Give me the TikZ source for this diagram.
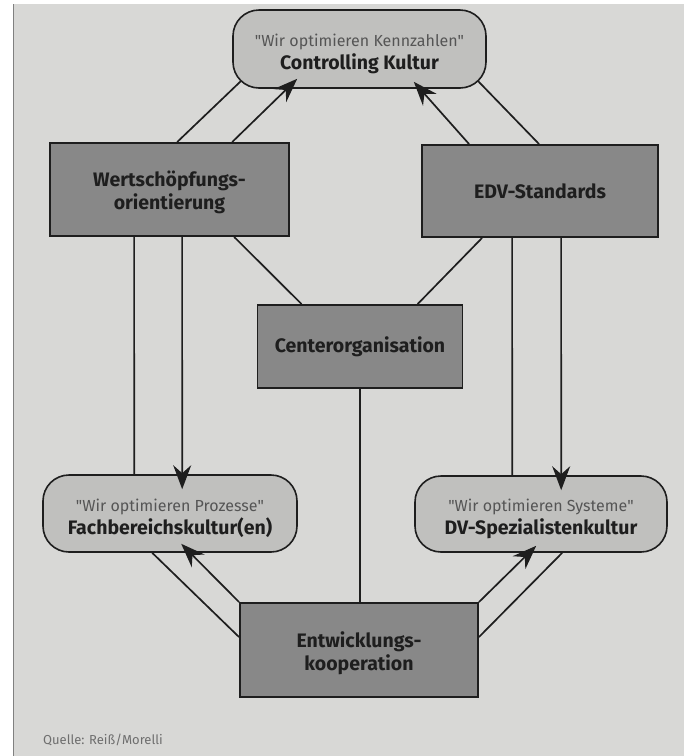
\documentclass[tikz,border=0pt]{standalone}
\usepackage{fontspec}
\setmainfont{Fira Sans}
\usetikzlibrary{arrows.meta,calc}
\definecolor{panel}{RGB}{216,216,214}
\definecolor{boxfill}{RGB}{136,136,136}
\definecolor{roundfill}{RGB}{192,192,190}
\definecolor{ink}{RGB}{30,30,30}
\definecolor{quoteink}{RGB}{85,85,85}
\definecolor{srcink}{RGB}{110,110,110}
\newcommand{\qline}[1]{{\color{quoteink}\mdseries\fontsize{16}{23}\selectfont\rule{0pt}{22pt}\textquotedbl#1\textquotedbl}}
\newcommand{\lowstrut}{\rule{0pt}{22pt}}
\tikzset{
  rectbox/.style={draw=ink,line width=1.8pt,fill=boxfill,inner sep=0pt,align=center,
    font=\fontsize{19.5}{23}\selectfont\bfseries,text=ink},
  roundbox/.style={draw=ink,line width=1.6pt,fill=roundfill,rounded corners=26pt,inner sep=0pt,align=center,
    font=\fontsize{19.5}{23}\selectfont,text=ink},
  conn/.style={draw=ink,line width=1.7pt},
  arr/.style={conn,-{Stealth[length=24pt,width=18pt,inset=8pt]}}
}
\begin{document}
\begin{tikzpicture}[x=1pt,y=-1pt]
\useasboundingbox (0,0) rectangle (691,756);
\fill[white] (0,0) rectangle (691,756);
\fill[panel] (13,4) rectangle (684,756);
\draw[gray,line width=1pt] (13,4) -- (13,756);

\node[roundbox,minimum width=253pt,minimum height=78pt] (ctrl) at (359.5,49)
  {\qline{Wir optimieren Kennzahlen}\\\bfseries Controlling Kultur};
\node[rectbox,minimum width=239pt,minimum height=93pt] (wert) at (169.5,189.5) {\lowstrut Wertschöpfungs-\\orientierung};
\node[rectbox,minimum width=236pt,minimum height=92pt] (edv) at (540,191) {EDV-Standards};
\node[rectbox,minimum width=205pt,minimum height=83pt] (cent) at (360,346.5) {Centerorganisation};
\node[roundbox,minimum width=254pt,minimum height=77pt] (fach) at (170,513.5)
  {\qline{Wir optimieren Prozesse}\\\bfseries Fachbereichskultur(en)};
\node[roundbox,minimum width=252pt,minimum height=76pt] (dv) at (541,514)
  {\qline{Wir optimieren Systeme}\\\bfseries DV-Spezialistenkultur};
\node[rectbox,minimum width=238pt,minimum height=94pt] (entw) at (359,650) {\lowstrut Entwicklungs-\\kooperation};
\node[anchor=west,text=srcink,font=\fontsize{13}{14}\selectfont,inner sep=0pt] (src) at (43,740) {Quelle: Reiß/Morelli};

% top connectors
\draw[conn] ($(wert.north west)+(128,0)$) -- ($(ctrl.south west)+(9,-8)$);
\draw[arr]  ($(wert.north west)+(183,0)$) -- ($(ctrl.south west)+(65,-10)$);
\draw[arr]  ($(edv.north west)+(48,0)$) -- ($(ctrl.south east)+(-73,-7)$);
\draw[conn] ($(edv.north west)+(118,0)$) -- ($(ctrl.south east)+(-9,-8)$);
% to center
\draw[conn] ($(wert.south west)+(185,0)$) -- ($(cent.north west)+(45,0)$);
\draw[conn] ($(edv.south west)+(61,0)$) -- ($(cent.north west)+(161,0)$);
% verticals
\draw[conn] ($(wert.south west)+(85,0)$) -- ($(fach.north west)+(92,0)$);
\draw[arr]  ($(wert.south west)+(133,0)$) -- ($(fach.north west)+(140,15)$);
\draw[conn] ($(edv.south west)+(91,0)$) -- ($(dv.north west)+(98,0)$);
\draw[arr]  ($(edv.south west)+(140,0)$) -- ($(dv.north west)+(147,15)$);
\draw[conn] (cent.south) -- (cent.south |- entw.north);
% bottom
\draw[arr]  (entw.north west) -- ($(fach.south west)+(139,-9)$);
\draw[conn] ($(fach.south west)+(110,0)$) -- ($(entw.north west)+(0,35)$);
\draw[arr]  (entw.north east) -- ($(dv.south west)+(122,-7)$);
\draw[conn] ($(dv.south west)+(148,0)$) -- ($(entw.north east)+(0,35)$);
\end{tikzpicture}
\end{document}
